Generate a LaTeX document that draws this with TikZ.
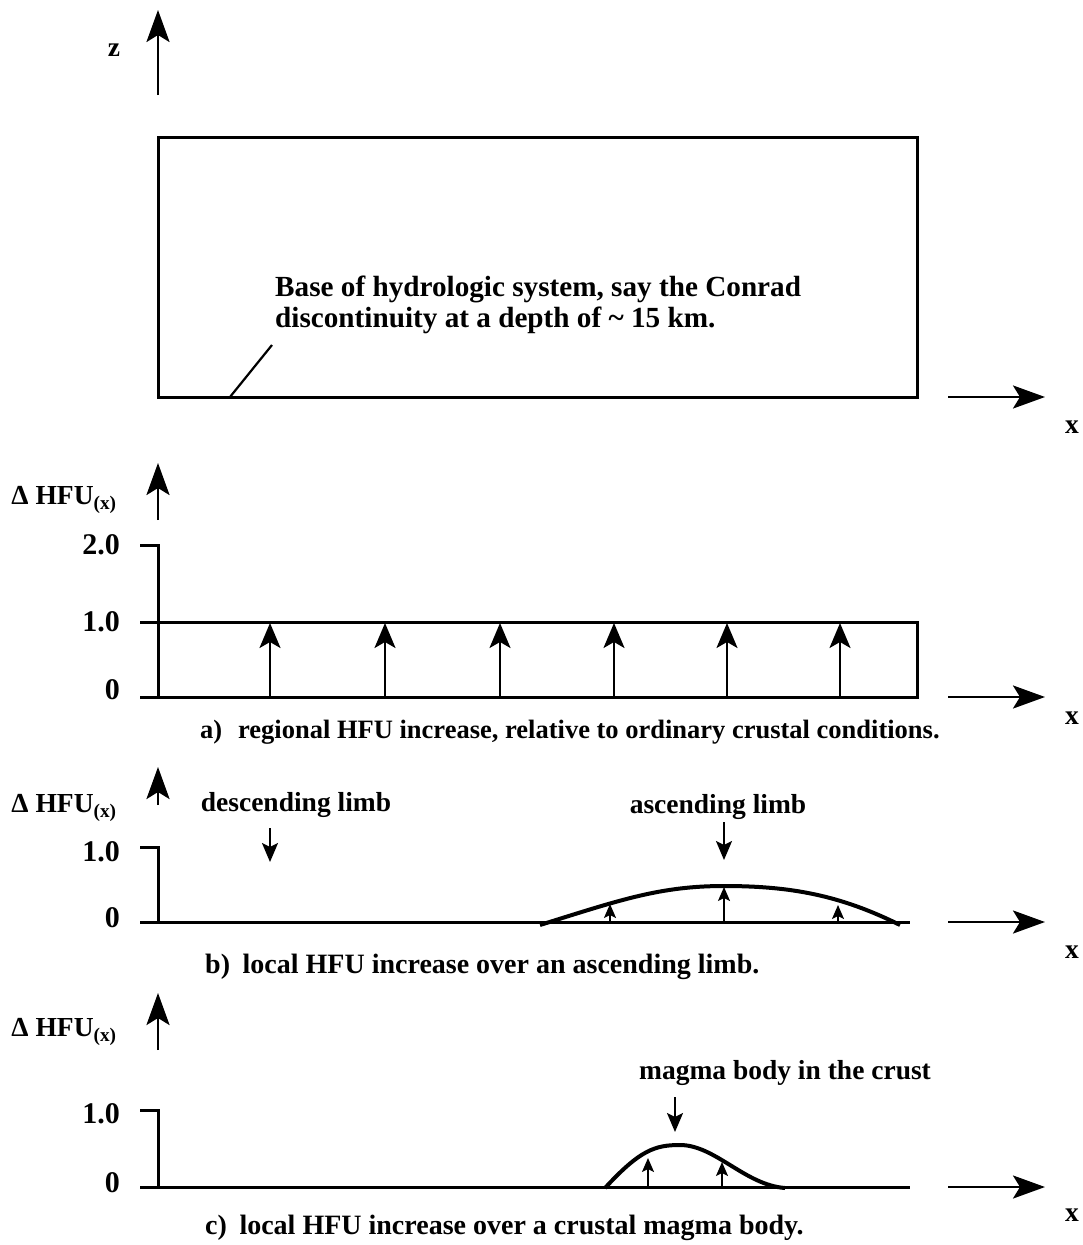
\documentclass[tikz,border=0pt]{standalone}
\usepackage{fontspec}
\setmainfont{Liberation Serif}
\usetikzlibrary{arrows.meta,positioning}

\begin{document}
\begin{tikzpicture}[x=1pt,y=-1pt,>={Stealth[length=32pt,width=23pt,inset=7pt]},
    every node/.style={font=\bfseries\fontsize{27.5}{31}\selectfont,inner sep=0pt},
    capt/.style={anchor=west,font=\bfseries\fontsize{26.5}{31}\selectfont},
    num/.style={anchor=east,font=\bfseries\fontsize{30}{31}\selectfont},
    axis/.style={line width=3pt},
    bigarrow/.style={line width=2.8pt,->},
    vecarrow/.style={line width=2.3pt,-{Stealth[length=25pt,width=21pt,inset=6pt]}},
    smallarrow/.style={line width=2pt,-{Stealth[length=14pt,width=12pt,inset=3pt]}},
    pointer/.style={line width=2.2pt,-{Stealth[length=19pt,width=16pt,inset=4pt]}}]
    \useasboundingbox (0,0) rectangle (1082,1245);

    % top: the crust block
    \coordinate (zbot) at (158,95);
    \coordinate (ztop) at (158,10);
    \draw[bigarrow] (zbot) -- (ztop);
    \node (zlbl) at (114,50) {z};
    \coordinate (boxnw) at (158,137);
    \coordinate (boxse) at (917,397);
    \draw[axis] (boxnw) rectangle (boxse);
    \coordinate (basept) at (230,397);
    \coordinate (leadtop) at (272,345);
    \draw[line width=2.2pt] (basept) -- (leadtop);
    \node[anchor=west,align=left,font=\bfseries\fontsize{29.2}{31}\selectfont] (basetxt) at (275,305)
        {Base of hydrologic system, say the Conrad\\
         discontinuity at a depth of \textasciitilde\ 15 km.};
    \coordinate (x0s) at (948,397);
    \coordinate (x0e) at (1045,397);
    \draw[bigarrow] (x0s) -- (x0e);
    \node (x0lbl) at (1072,427) {x};

    % a) regional increase
    \node (hfua) at (64,500) {Δ HFU\textsubscript{(x)}};
    \coordinate (abot) at (158,520);
    \coordinate (atop) at (158,463);
    \draw[bigarrow] (abot) -- (atop);
    \coordinate (ao) at (158,697);
    \coordinate (atwo) at (158,545);
    \draw[axis] (140,545) -- (atwo) -- (ao);
    \draw[axis] (140,697) -- (917,697) -- (917,622) -- (140,622);
    \node[num] (atwolbl) at (120,545) {2.0};
    \node[num] (aonelbl) at (120,622) {1.0};
    \node[num] (azerolbl) at (120,690) {0};
    \foreach \i in {270,385,500,614,727,840}{
        \coordinate (p\i) at (\i,697);
        \coordinate (q\i) at (\i,623);
        \draw[vecarrow] (p\i) -- (q\i);
    }
    \coordinate (x1s) at (948,697);
    \coordinate (x1e) at (1045,697);
    \draw[bigarrow] (x1s) -- (x1e);
    \node (x1lbl) at (1072,718) {x};
    \node[capt] (capa) at (200,732)
        {a)\hspace{0.6em}regional HFU increase, relative to ordinary crustal conditions.};

    % b) ascending limb
    \node (hfub) at (64,808) {Δ HFU\textsubscript{(x)}};
    \coordinate (bbot) at (158,805);
    \coordinate (btop) at (158,767);
    \draw[bigarrow] (bbot) -- (btop);
    \draw[axis] (140,847) -- (158,847) -- (158,922);
    \draw[axis] (140,922) -- (910,922);
    \node[num] (bonelbl) at (120,852) {1.0};
    \node[num] (bzerolbl) at (120,918) {0};
    \node (desc) at (296,805) {descending limb};
    \coordinate (dtip) at (270,862);
    \draw[pointer] (270,828) -- (dtip);
    \node (asc) at (718,807) {ascending limb};
    \coordinate (atip) at (724,860);
    \draw[pointer] (724,822) -- (atip);
    \draw[line width=4pt] (540,925) .. controls (620,900) and (660,886) .. (724,886)
        .. controls (790,886) and (840,895) .. (900,925);
    \draw[smallarrow] (610,922) -- (610,904);
    \draw[smallarrow] (724,922) -- (724,887);
    \draw[smallarrow] (838,922) -- (838,905);
    \coordinate (x2s) at (948,922);
    \coordinate (x2e) at (1045,922);
    \draw[bigarrow] (x2s) -- (x2e);
    \node (x2lbl) at (1072,952) {x};
    \node[capt,font=\bfseries\fontsize{28}{31}\selectfont] (capb) at (205,967)
        {b)\hspace{0.45em}local HFU increase over an ascending limb.};

    % c) magma body
    \node (hfuc) at (64,1032) {Δ HFU\textsubscript{(x)}};
    \coordinate (cbot) at (158,1050);
    \coordinate (ctop) at (158,993);
    \draw[bigarrow] (cbot) -- (ctop);
    \draw[axis] (140,1110) -- (158,1110) -- (158,1187);
    \draw[axis] (140,1187) -- (910,1187);
    \node[num] (conelbl) at (120,1114) {1.0};
    \node[num] (czerolbl) at (120,1183) {0};
    \node (magma) at (785,1073) {magma body in the crust};
    \coordinate (mtip) at (675,1132);
    \draw[pointer] (675,1097) -- (mtip);
    \draw[line width=4pt] (605,1188) .. controls (640,1150) and (655,1145) .. (680,1145)
        .. controls (715,1145) and (745,1185) .. (785,1188);
    \draw[smallarrow] (648,1187) -- (648,1158);
    \draw[smallarrow] (722,1187) -- (722,1162);
    \coordinate (x3s) at (948,1187);
    \coordinate (x3e) at (1045,1187);
    \draw[bigarrow] (x3s) -- (x3e);
    \node (x3lbl) at (1072,1215) {x};
    \node[capt,font=\bfseries\fontsize{28}{31}\selectfont] (capc) at (205,1228)
        {c)\hspace{0.45em}local HFU increase over a crustal magma body.};
\end{tikzpicture}
\end{document}
